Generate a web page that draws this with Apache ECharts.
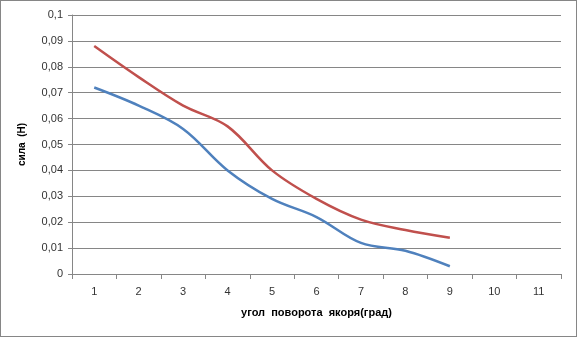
<!DOCTYPE html>
<html>
<head>
<meta charset="utf-8">
<script src="https://cdn.jsdelivr.net/npm/echarts@6/dist/echarts.min.js"></script>
<style>
  html, body { margin: 0; padding: 0; background: #fff; }
  #chart { width: 577px; height: 337px; box-sizing: border-box; border: 1px solid #868686; }
</style>
</head>
<body>
<div id="chart"></div>
<script>
// Angle of armature rotation (degrees) — category labels
const angles = ['1', '2', '3', '4', '5', '6', '7', '8', '9', '10', '11'];
// Force values, N
const forceUpper = [0.088, 0.076, 0.065, 0.057, 0.040, 0.029, 0.021, 0.017, 0.014];
const forceLower = [0.072, 0.065, 0.056, 0.040, 0.029, 0.022, 0.012, 0.009, 0.003];
// Y axis range
const yMin = 0, yMax = 0.1, yStep = 0.01;

const xTitle = 'угол  поворота  якоря(град)';
const yTitle = 'сила  (Н)';

const chart = echarts.init(document.getElementById('chart'), null, { renderer: 'canvas' });
const labelFont = { fontFamily: 'Liberation Sans, Arial, sans-serif', fontSize: 11, color: '#333' };

chart.setOption({
  animation: false,
  grid: { left: 71, right: 15, top: 14, bottom: 62, containLabel: false },
  xAxis: {
    type: 'category',
    data: angles,
    boundaryGap: true,
    name: xTitle,
    nameLocation: 'middle',
    nameGap: 33,
    nameTextStyle: { fontFamily: 'Liberation Sans, Arial, sans-serif', fontSize: 11, fontWeight: 'bold', color: '#000' },
    axisLine: { lineStyle: { color: '#868686', width: 1 } },
    axisTick: { show: true, alignWithLabel: false, length: 5, lineStyle: { color: '#868686' } },
    axisLabel: Object.assign({ margin: 12 }, labelFont),
    splitLine: { show: false }
  },
  yAxis: {
    type: 'value',
    min: yMin,
    max: yMax,
    interval: yStep,
    name: yTitle,
    nameLocation: 'middle',
    nameGap: 45,
    nameRotate: 90,
    nameTextStyle: { fontFamily: 'Liberation Sans, Arial, sans-serif', fontSize: 10, fontWeight: 'bold', color: '#000' },
    axisLine: { show: true, lineStyle: { color: '#868686', width: 1 } },
    axisTick: { show: true, length: 4, lineStyle: { color: '#868686' } },
    axisLabel: Object.assign({
      margin: 9,
      formatter: v => String(Math.round(v * 100) / 100).replace('.', ',')
    }, labelFont),
    splitLine: { show: true, lineStyle: { color: '#868686', width: 1 } }
  },
  series: [
    {
      type: 'line',
      data: forceUpper,
      smooth: 0.35,
      symbol: 'none',
      lineStyle: { color: '#C0504D', width: 2.5 }
    },
    {
      type: 'line',
      data: forceLower,
      smooth: 0.35,
      symbol: 'none',
      lineStyle: { color: '#4F81BD', width: 2.5 }
    }
  ]
});
</script>
</body>
</html>
